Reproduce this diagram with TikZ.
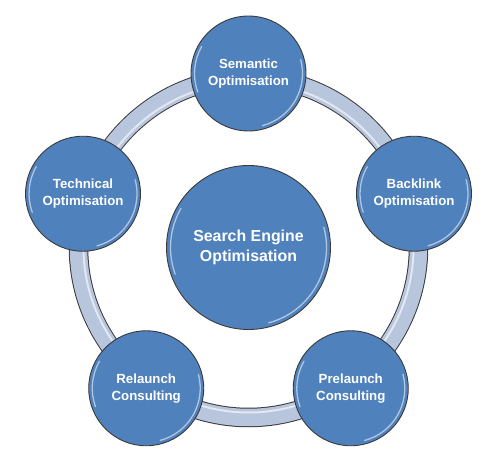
\documentclass[tikz,border=0pt]{standalone}
\usepackage{fontspec}
\setmainfont{Liberation Sans}
\definecolor{nodeblue}{HTML}{4F81BD}
\definecolor{ringblue}{HTML}{B7C5DD}
\definecolor{rimgray}{HTML}{3A3A3A}

\begin{document}
\begin{tikzpicture}[x=1pt,y=1pt,
  topic/.style={circle, draw=rimgray, line width=0.9pt, fill=nodeblue, minimum size=115pt,
    inner sep=0pt, text=white, align=center, font=\bfseries\fontsize{13.25}{17}\selectfont},
  hub/.style={topic, minimum size=164pt, font=\bfseries\fontsize{15.9}{20}\selectfont},
  shine/.style={white, opacity=.55, line width=1.3pt, line cap=round}]
  \useasboundingbox (-248.5,-217.5) rectangle (251.5,247.5);
  % ring behind the topics
  \coordinate (c) at (0,0);
  \draw[rimgray, line width=19.5pt] (c) circle (170pt);
  \draw[ringblue, line width=17.5pt] (c) circle (170pt);
  \draw[white, opacity=.6, line width=2pt] (c) circle (165pt);
  % topics
  \node[hub] (seo) at (c) {Search Engine\\Optimisation};
  \node[topic] (sem) at (90:174pt) {Semantic\\Optimisation};
  \node[topic] (back) at (18:174pt) {Backlink\\Optimisation};
  \node[topic] (pre) at (-54:174pt) {Prelaunch\\Consulting};
  \node[topic] (rel) at (234:174pt) {Relaunch\\Consulting};
  \node[topic] (tech) at (162:174pt) {Technical\\Optimisation};
  % bevel highlights
  \foreach \n/\r in {sem/54, back/54, pre/54, rel/54, tech/54, seo/78}{
    \draw[shine] ([shift={(-75:\r pt)}]\n.center) arc (-75:15:\r pt);
    \draw[shine] ([shift={(150:\r pt)}]\n.center) arc (150:200:\r pt);
  }
\end{tikzpicture}
\end{document}
